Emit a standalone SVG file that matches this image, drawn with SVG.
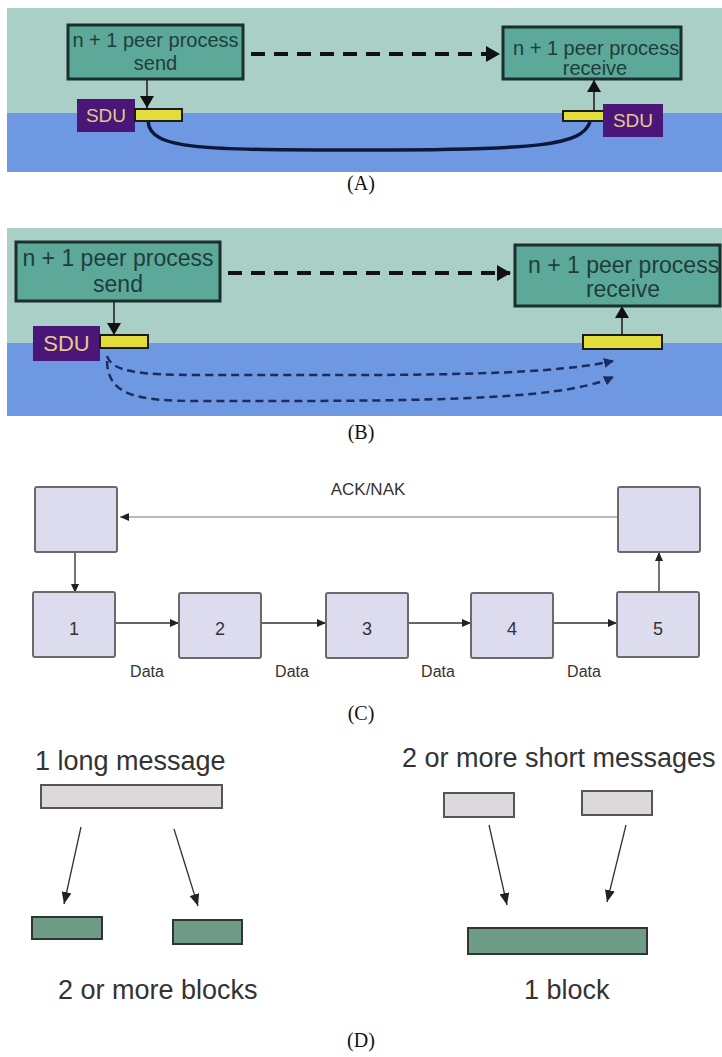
<svg xmlns="http://www.w3.org/2000/svg" width="722" height="1057" viewBox="0 0 722 1057">
<style>
.sky{fill:#a9cfc6}
.sea{fill:#6e98e2}
.proc{fill:#5ca99a;stroke:#1b2f2b;stroke-width:3}
.ptxt{font-family:"Liberation Sans",Arial,sans-serif;fill:#1f3d3a}
.sdu{fill:#4a1678}
.sdut{font-family:"Liberation Sans",Arial,sans-serif;fill:#e6c98c;text-anchor:middle}
.bar{fill:#e3dd3c;stroke:#1b1b1b;stroke-width:2}
.cap{font-family:"Liberation Serif","Times New Roman",serif;font-size:20px;fill:#111;text-anchor:middle}
.cbox{fill:#dcdcee;stroke:#6a6a6a;stroke-width:2}
.ctxt{font-family:"Liberation Sans",Arial,sans-serif;fill:#333;text-anchor:middle}
.dtxt{font-family:"Liberation Sans",Arial,sans-serif;font-size:27px;fill:#333}
.msg{fill:#ddd8dc;stroke:#555;stroke-width:2}
.blk{fill:#6f9c86;stroke:#333;stroke-width:2}
</style>
<defs>
<marker id="bigHead" markerUnits="userSpaceOnUse" markerWidth="14" markerHeight="16" refX="13" refY="8" orient="auto"><path d="M0,0 L14,8 L0,16 Z" fill="#111"/></marker>
<marker id="vHead" markerUnits="userSpaceOnUse" markerWidth="12" markerHeight="14" refX="12" refY="7" orient="auto"><path d="M0,0 L12,7 L0,14 Z" fill="#111"/></marker>
<marker id="navyHead" markerUnits="userSpaceOnUse" markerWidth="10" markerHeight="10" refX="9" refY="5" orient="auto"><path d="M0,0 L10,5 L0,10 Z" fill="#1d2b5e"/></marker>
<marker id="cHead" markerUnits="userSpaceOnUse" markerWidth="9" markerHeight="8" refX="9" refY="4" orient="auto"><path d="M0,0 L9,4 L0,8 Z" fill="#222"/></marker>
<marker id="dHead" markerUnits="userSpaceOnUse" markerWidth="12" markerHeight="10" refX="12" refY="5" orient="auto"><path d="M0,0 L12,5 L0,10 Z" fill="#222"/></marker>
<clipPath id="clipA"><rect x="503" y="27" width="178" height="52"/></clipPath>
<clipPath id="clipB"><rect x="515" y="245" width="205" height="61"/></clipPath>
</defs>

<!-- Panel A background -->
<rect class="sky" x="7" y="8" width="715" height="105"/>
<rect class="sea" x="7" y="113" width="715" height="59"/>

<!-- Panel B background -->
<rect class="sky" x="7" y="228" width="715" height="115"/>
<rect class="sea" x="7" y="343" width="715" height="73"/>

<g id="connectors">
  <!-- A -->
  <line x1="251" y1="54" x2="499" y2="54" stroke="#111" stroke-width="4" stroke-dasharray="14 9" marker-end="url(#bigHead)"/>
  <line x1="147" y1="79" x2="147" y2="108" stroke="#444" stroke-width="2" marker-end="url(#vHead)"/>
  <path d="M148,121 C150,150 200,150 370,150 C540,150 582,145 590,122" fill="none" stroke="#0d1838" stroke-width="3.5"/>
  <line x1="594" y1="111" x2="594" y2="80" stroke="#444" stroke-width="2" marker-end="url(#vHead)"/>
  <!-- B -->
  <line x1="228" y1="273" x2="510" y2="273" stroke="#111" stroke-width="4" stroke-dasharray="14 9" marker-end="url(#bigHead)"/>
  <line x1="114" y1="301" x2="114" y2="335" stroke="#444" stroke-width="2" marker-end="url(#vHead)"/>
  <line x1="622" y1="335" x2="622" y2="306" stroke="#444" stroke-width="2" marker-end="url(#vHead)"/>
  <path d="M107,356 C112,372 140,375 200,375 C400,375 540,377 613,361" fill="none" stroke="#1d2b5e" stroke-width="2.5" stroke-dasharray="8 5" marker-end="url(#navyHead)"/>
  <path d="M107,361 C108,395 135,401 200,401 C400,401 560,402 613,377" fill="none" stroke="#1d2b5e" stroke-width="2.5" stroke-dasharray="8 5" marker-end="url(#navyHead)"/>
  <!-- C -->
  <line x1="618" y1="517" x2="120" y2="517" stroke="#777" stroke-width="1.2" marker-end="url(#cHead)"/>
  <line x1="75" y1="552" x2="75" y2="593" stroke="#444" stroke-width="1.5" marker-end="url(#cHead)"/>
  <line x1="659" y1="593" x2="659" y2="552" stroke="#444" stroke-width="1.5" marker-end="url(#cHead)"/>
  <line x1="115" y1="623" x2="179" y2="623" stroke="#333" stroke-width="1.5" marker-end="url(#cHead)"/>
  <line x1="261" y1="623" x2="326" y2="623" stroke="#333" stroke-width="1.5" marker-end="url(#cHead)"/>
  <line x1="408" y1="623" x2="471" y2="623" stroke="#333" stroke-width="1.5" marker-end="url(#cHead)"/>
  <line x1="553" y1="623" x2="617" y2="623" stroke="#333" stroke-width="1.5" marker-end="url(#cHead)"/>
  <!-- D -->
  <line x1="81" y1="827" x2="64" y2="904" stroke="#333" stroke-width="1.3" marker-end="url(#dHead)"/>
  <line x1="174" y1="829" x2="198" y2="906" stroke="#333" stroke-width="1.3" marker-end="url(#dHead)"/>
  <line x1="489" y1="825" x2="507" y2="905" stroke="#333" stroke-width="1.3" marker-end="url(#dHead)"/>
  <line x1="626" y1="825" x2="607" y2="902" stroke="#333" stroke-width="1.3" marker-end="url(#dHead)"/>
</g>

<!-- Panel A nodes -->
<g id="A-send">
  <rect class="proc" x="68" y="25" width="175" height="54"/>
  <text class="ptxt" x="155.5" y="47" font-size="20" text-anchor="middle">n + 1 peer process</text>
  <text class="ptxt" x="155.5" y="70" font-size="20" text-anchor="middle">send</text>
</g>
<g id="A-receive">
  <rect class="proc" x="503" y="27" width="178" height="52"/>
  <g clip-path="url(#clipA)">
    <text class="ptxt" x="513" y="55" font-size="20">n + 1 peer process</text>
  </g>
  <text class="ptxt" x="595" y="75" font-size="20" text-anchor="middle">receive</text>
</g>
<g id="A-sdu-left">
  <rect class="sdu" x="77" y="99" width="58" height="33"/>
  <text class="sdut" x="106" y="122" font-size="19">SDU</text>
  <rect class="bar" x="135" y="109" width="47" height="12"/>
</g>
<g id="A-sdu-right">
  <rect class="bar" x="563" y="111" width="42" height="10"/>
  <rect class="sdu" x="603" y="104" width="60" height="33"/>
  <text class="sdut" x="633" y="127" font-size="19">SDU</text>
</g>
<text class="cap" x="361" y="190">(A)</text>

<!-- Panel B nodes -->
<g id="B-send">
  <rect class="proc" x="16" y="242" width="204" height="59"/>
  <text class="ptxt" x="118" y="266" font-size="23" text-anchor="middle">n + 1 peer process</text>
  <text class="ptxt" x="118" y="292" font-size="23" text-anchor="middle">send</text>
</g>
<g id="B-receive">
  <rect class="proc" x="515" y="245" width="205" height="61"/>
  <g clip-path="url(#clipB)">
    <text class="ptxt" x="528" y="273" font-size="23">n + 1 peer process</text>
  </g>
  <text class="ptxt" x="623" y="297" font-size="23" text-anchor="middle">receive</text>
</g>
<g id="B-sdu-left">
  <rect class="sdu" x="33" y="326" width="67" height="35"/>
  <text class="sdut" x="66.5" y="351" font-size="22">SDU</text>
  <rect class="bar" x="100" y="335" width="48" height="13"/>
</g>
<g id="B-bar-right">
  <rect class="bar" x="583" y="335" width="79" height="14"/>
</g>
<text class="cap" x="361" y="439">(B)</text>

<!-- Panel C -->
<text class="ctxt" x="368" y="495" font-size="17">ACK/NAK</text>
<g id="C-top-left"><rect class="cbox" x="35" y="487" width="82" height="65" rx="2"/></g>
<g id="C-top-right"><rect class="cbox" x="618" y="487" width="82" height="65" rx="2"/></g>
<g id="C-1"><rect class="cbox" x="33" y="592" width="82" height="65" rx="2"/><text class="ctxt" x="74" y="635" font-size="18">1</text></g>
<g id="C-2"><rect class="cbox" x="179" y="593" width="82" height="65" rx="2"/><text class="ctxt" x="220" y="635" font-size="18">2</text></g>
<g id="C-3"><rect class="cbox" x="326" y="593" width="82" height="65" rx="2"/><text class="ctxt" x="367" y="635" font-size="18">3</text></g>
<g id="C-4"><rect class="cbox" x="471" y="593" width="82" height="65" rx="2"/><text class="ctxt" x="512" y="635" font-size="18">4</text></g>
<g id="C-5"><rect class="cbox" x="617" y="592" width="82" height="65" rx="2"/><text class="ctxt" x="658" y="635" font-size="18">5</text></g>
<text class="ctxt" x="147" y="677" font-size="16">Data</text>
<text class="ctxt" x="292" y="677" font-size="16">Data</text>
<text class="ctxt" x="438" y="677" font-size="16">Data</text>
<text class="ctxt" x="584" y="677" font-size="16">Data</text>
<text class="cap" x="361" y="720">(C)</text>

<!-- Panel D -->
<text class="dtxt" x="35" y="770">1 long message</text>
<g id="D-long"><rect class="msg" x="41" y="785" width="181" height="23"/></g>
<g id="D-block1"><rect class="blk" x="32" y="917" width="70" height="22"/></g>
<g id="D-block2"><rect class="blk" x="173" y="920" width="69" height="24"/></g>
<text class="dtxt" x="58" y="999">2 or more blocks</text>

<text class="dtxt" x="402" y="767">2 or more short messages</text>
<g id="D-short1"><rect class="msg" x="444" y="793" width="70" height="24"/></g>
<g id="D-short2"><rect class="msg" x="582" y="791" width="70" height="24"/></g>
<g id="D-bigblock"><rect class="blk" x="468" y="928" width="179" height="26"/></g>
<text class="dtxt" x="524" y="999">1 block</text>
<text class="cap" x="361" y="1047">(D)</text>
</svg>
